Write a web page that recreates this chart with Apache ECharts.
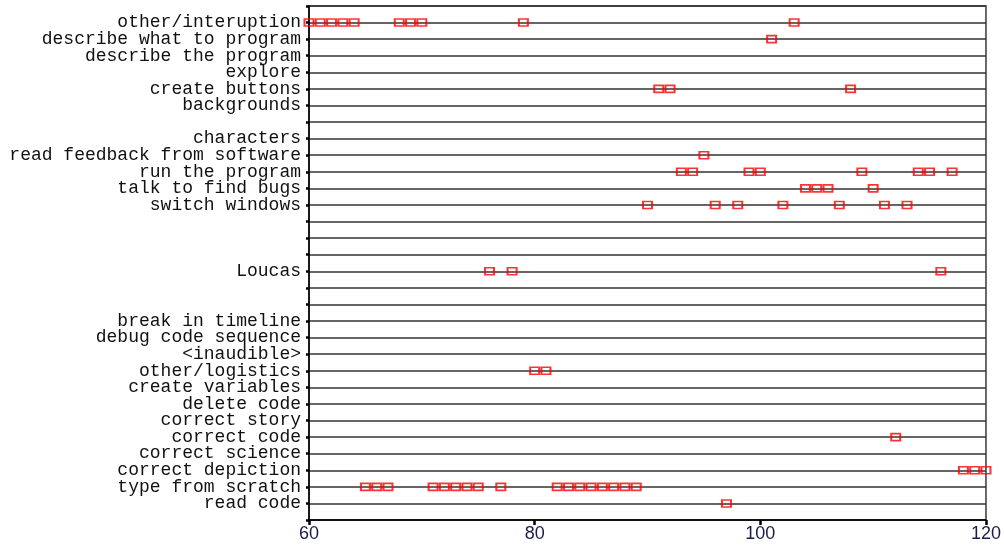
<!DOCTYPE html>
<html>
<head>
<meta charset="utf-8">
<script src="https://cdn.jsdelivr.net/npm/echarts@6/dist/echarts.min.js"></script>
<style>html,body{margin:0;padding:0;background:#fff}#c{width:1004px;height:548px}</style>
</head>
<body>
<div id="c"></div>
<script>
// Category rows, from bottom (row 1) to top (row 30); '' = blank row
const categories = [
  'read code', 'type from scratch', 'correct depiction', 'correct science',
  'correct code', 'correct story', 'delete code', 'create variables',
  'other/logistics', '<inaudible>', 'debug code sequence', 'break in timeline',
  '', '', 'Loucas', '', '', '',
  'switch windows', 'talk to find bugs', 'run the program',
  'read feedback from software', 'characters', '',
  'backgrounds', 'create buttons', 'explore', 'describe the program',
  'describe what to program', 'other/interuption'
];
const xTicks = [60, 80, 100, 120];

// Event times per row
const tReadCode = [97];
const tTypeFromScratch = [65, 66, 67, 71, 72, 73, 74, 75, 77, 82, 83, 84, 85, 86, 87, 88, 89];
const tCorrectDepiction = [118, 119, 120];
const tCorrectCode = [112];
const tOtherLogistics = [80, 81];
const tLoucas = [76, 78, 116];
const tSwitchWindows = [90, 96, 98, 102, 107, 111, 113];
const tTalkToFindBugs = [104, 105, 106, 110];
const tRunTheProgram = [93, 94, 99, 100, 109, 114, 115, 117];
const tReadFeedback = [95];
const tCreateButtons = [91, 92, 108];
const tDescribeWhat = [101];
const tOtherInteruption = [60, 61, 62, 63, 64, 68, 69, 70, 79, 103];

const rowTimes = [
  ['read code', tReadCode],
  ['type from scratch', tTypeFromScratch],
  ['correct depiction', tCorrectDepiction],
  ['correct code', tCorrectCode],
  ['other/logistics', tOtherLogistics],
  ['Loucas', tLoucas],
  ['switch windows', tSwitchWindows],
  ['talk to find bugs', tTalkToFindBugs],
  ['run the program', tRunTheProgram],
  ['read feedback from software', tReadFeedback],
  ['create buttons', tCreateButtons],
  ['describe what to program', tDescribeWhat],
  ['other/interuption', tOtherInteruption]
];

const points = [];
rowTimes.forEach(([name, times]) => {
  const row = categories.indexOf(name) + 1;
  times.forEach(t => points.push([t, row]));
});

const chart = echarts.init(document.getElementById('c'), null, {renderer: 'canvas'});
chart.setOption({
  animation: false,
  backgroundColor: '#fff',
  grid: {left: 309, right: 18, top: 6, bottom: 28, show: true, borderColor: '#3a3a3a', borderWidth: 1.5, backgroundColor: 'transparent'},
  xAxis: {
    type: 'value', min: 60, max: 120, interval: 20,
    axisLine: {show: true, lineStyle: {color: '#000', width: 1.5}},
    axisTick: {show: true, length: 5, lineStyle: {color: '#000', width: 2.5}},
    axisLabel: {
      fontFamily: 'Liberation Sans, Arial, sans-serif', fontSize: 18, color: '#1c1c4a', margin: 5,
      formatter: v => xTicks.includes(v) ? String(v) : ''
    },
    splitLine: {show: false}
  },
  yAxis: {
    type: 'value', min: 0, max: 31, interval: 1,
    axisLine: {show: true, lineStyle: {color: '#000', width: 1.5}},
    axisTick: {show: true, length: 3, lineStyle: {color: '#000', width: 2.5}},
    axisLabel: {
      fontFamily: 'Liberation Mono, Courier New, monospace', fontSize: 18, color: '#111', margin: 8,
      formatter: v => (v >= 1 && v <= categories.length) ? categories[v - 1] : ''
    },
    splitLine: {show: true, lineStyle: {color: '#333', width: 1.5}}
  },
  series: [{
    type: 'scatter',
    data: points,
    symbol: 'rect',
    symbolSize: [9, 7],
    itemStyle: {color: 'rgba(255,255,255,0)', borderColor: '#ff0000', borderWidth: 1.8},
    z: 5
  }]
});
</script>
</body>
</html>
